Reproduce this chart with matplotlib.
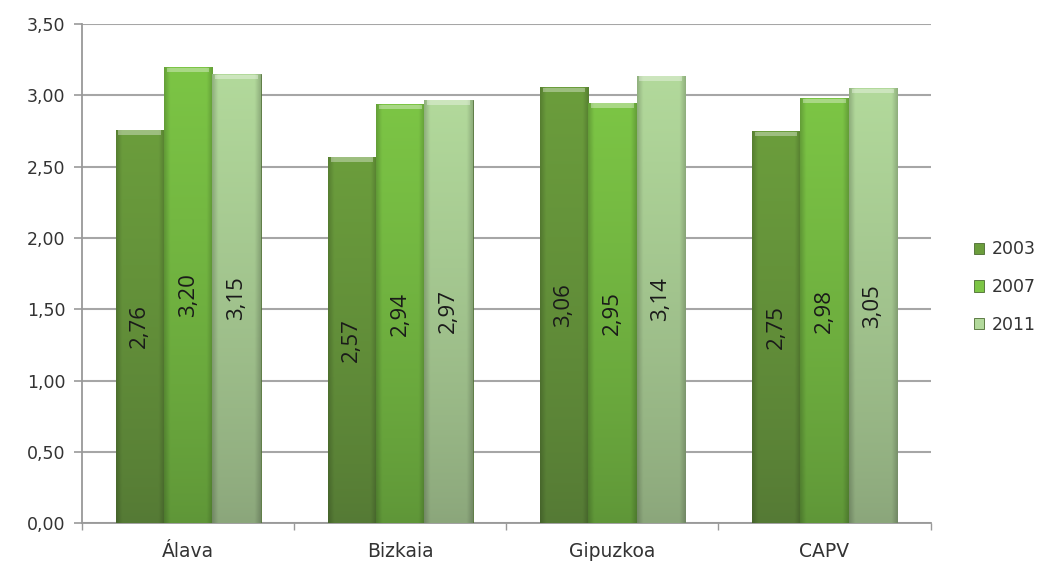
import numpy as np
import matplotlib
matplotlib.use("Agg")
import matplotlib.pyplot as plt
from matplotlib.colors import to_rgb
from matplotlib.patches import Rectangle

categories = ["Álava", "Bizkaia", "Gipuzkoa", "CAPV"]
series_names = ["2003", "2007", "2011"]
values_2003 = [2.76, 2.57, 3.06, 2.75]
values_2007 = [3.20, 2.94, 2.95, 2.98]
values_2011 = [3.15, 2.97, 3.14, 3.05]
yticks = [0.0, 0.5, 1.0, 1.5, 2.0, 2.5, 3.0, 3.5]

series = [values_2003, values_2007, values_2011]
# (top colour, bottom colour) per series
colors = [("#6b9d3c", "#557a35"), ("#7cc545", "#5f9638"), ("#b2d99b", "#8ba67b")]

fig = plt.figure(figsize=(10.45, 5.63), dpi=100)
ax = fig.add_axes([0.0785, 0.071, 0.812, 0.886])

x = np.arange(len(categories))
w = 0.228
handles = []
for i, (vals, name) in enumerate(zip(series, series_names)):
    top, bot = colors[i]
    bars = ax.bar(x + (i - 1) * w, vals, width=w, color=top, edgecolor="#4a6a30",
                  linewidth=0.6, zorder=3, label=name)
    handles.append(bars)
    for b, v in zip(bars, vals):
        bx, by, bw, bh = b.get_x(), b.get_y(), b.get_width(), b.get_height()
        ny, nx = 100, 40
        yy = np.linspace(0, 1, ny)[:, None]
        xx = np.linspace(0, 1, nx)[None, :]
        edge = 1 - 0.18 * (np.clip(1 - np.minimum(xx, 1 - xx) / 0.12, 0, 1))
        tb = np.array(to_rgb(top)); bb = np.array(to_rgb(bot))
        t = (yy ** 0.8)[:, :, None]
        img = (bb + (tb - bb) * t) * edge[:, :, None]
        img = np.clip(img, 0, 1)
        im = ax.imshow(img, extent=(bx, bx + bw, by, by + bh), origin="lower",
                       aspect="auto", zorder=3.5, interpolation="bilinear")
        im.set_clip_path(b)
        hl = Rectangle((bx + bw * 0.06, by + bh - 0.035), bw * 0.88, 0.03,
                       facecolor="white", alpha=0.35, edgecolor="none", zorder=4)
        ax.add_patch(hl)
        ax.text(bx + bw / 2, v / 2, ("%.2f" % v).replace(".", ","), rotation=90,
                ha="center", va="center", fontsize=16, family="Open Sans",
                color="#1a1a1a", zorder=5)

ax.set_xlim(-0.5, len(categories) - 0.5)
ax.set_ylim(0, 3.5)
ax.set_yticks(yticks)
ax.set_yticklabels([("%.2f" % t).replace(".", ",") for t in yticks],
                   fontsize=12.5, color="#333333", family="DejaVu Sans")
ax.set_xticks(x)
ax.set_xticklabels(categories, fontsize=13.5, color="#333333", family="DejaVu Sans")
ax.tick_params(axis="x", length=0, pad=14)
ax.set_xticks(np.arange(len(categories) + 1) - 0.5, minor=True)
ax.tick_params(axis="x", which="minor", length=5, color="#999999", width=1)
ax.tick_params(axis="y", length=6, color="#999999", width=1.2, pad=6)
ax.yaxis.grid(True, color="#a6a6a6", linewidth=1.5, zorder=0)
ax.set_axisbelow(True)
for s in ["top", "right"]:
    ax.spines[s].set_visible(False)
for s in ["left", "bottom"]:
    ax.spines[s].set_color("#999999")
    ax.spines[s].set_linewidth(1.3)

leg = fig.legend(handles=handles, labels=series_names, loc="center left",
                 bbox_to_anchor=(0.917, 0.49), frameon=False,
                 handlelength=0.6, handleheight=0.6, labelspacing=1.15,
                 handletextpad=0.45, prop={"family": "DejaVu Sans", "size": 12.5})
for t in leg.get_texts():
    t.set_color("#333333")

fig.savefig("out.png", dpi=100)
